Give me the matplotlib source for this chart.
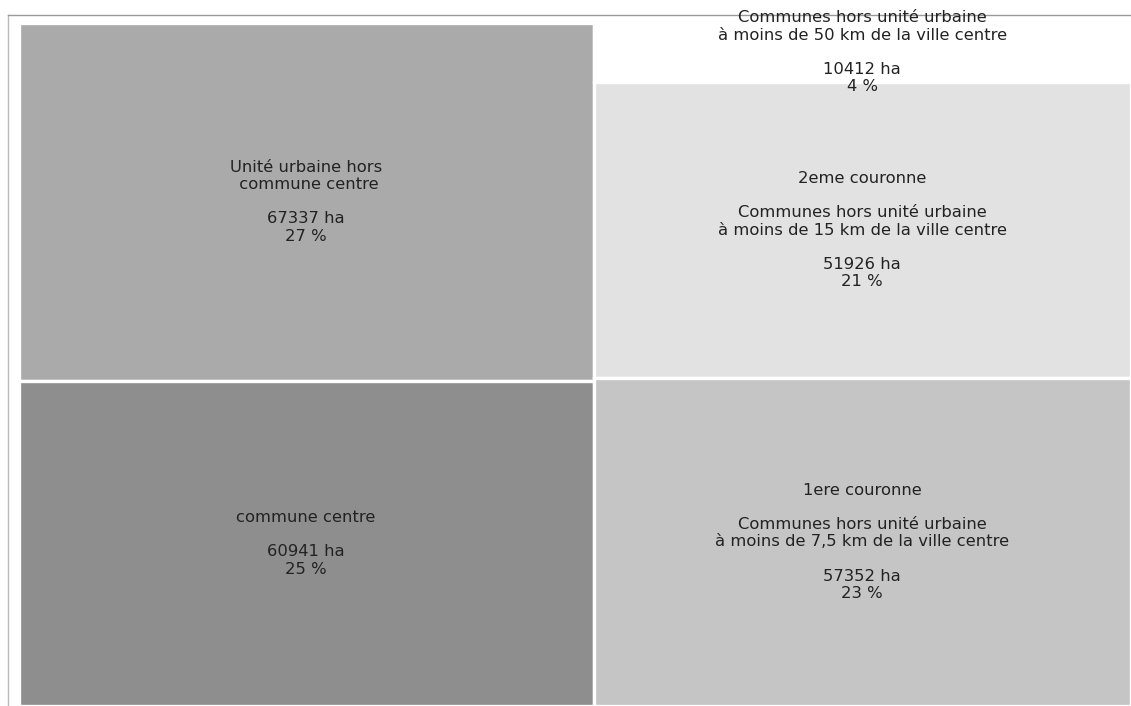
import matplotlib
matplotlib.use("Agg")
import matplotlib.pyplot as plt
from matplotlib.patches import Rectangle

# Surfaces (ha) par zone
labels = [
    "Unité urbaine hors\n commune centre",
    "commune centre",
    "Communes hors unité urbaine\nà moins de 50 km de la ville centre",
    "2eme couronne\n\nCommunes hors unité urbaine\nà moins de 15 km de la ville centre",
    "1ere couronne\n\nCommunes hors unité urbaine\nà moins de 7,5 km de la ville centre",
]
surfaces = [67337, 60941, 10412, 51926, 57352]
colors = ["#aaaaaa", "#8e8e8e", "#ffffff", "#e2e2e2", "#c5c5c5"]
# colonnes du treemap (indices, de haut en bas)
columns = [[0, 1], [2, 3, 4]]

total = sum(surfaces)
W, H = 100.0, 100.0

fig = plt.figure(figsize=(11.31, 7.06), dpi=100)
fw, fh = 1131, 706
# axes en pixels : gauche 8, haut 15, largeur 1133, hauteur 698
ax = fig.add_axes([8 / fw, (fh - 15 - 698) / fh, 1133 / fw, 698 / fh])

mx = 10.5 / 1112 * W
my = 7.5 / 683 * H
ax.set_xlim(-mx, W + mx)
ax.set_ylim(H + my, -my)

x0 = 0.0
for col in columns:
    col_total = sum(surfaces[i] for i in col)
    cw = W * col_total / total
    y0 = 0.0
    for i in col:
        rh = H * surfaces[i] / col_total
        ax.add_patch(Rectangle((x0, y0), cw, rh, facecolor=colors[i],
                               edgecolor="white", linewidth=2.4))
        pct = round(100 * surfaces[i] / total)
        ax.text(x0 + cw / 2, y0 + rh / 2,
                f"{labels[i]}\n\n{surfaces[i]} ha\n{pct} %",
                ha="center", va="center", fontsize=11.75, color="#222222",
                linespacing=1.18)
        y0 += rh
    x0 += cw

ax.set_xticks([])
ax.set_yticks([])
for side, c in [("top", "#999999"), ("left", "#bbbbbb"),
                ("right", "#999999"), ("bottom", "#999999")]:
    ax.spines[side].set_color(c)
    ax.spines[side].set_linewidth(1.0)

fig.savefig("out.png", dpi=100)
